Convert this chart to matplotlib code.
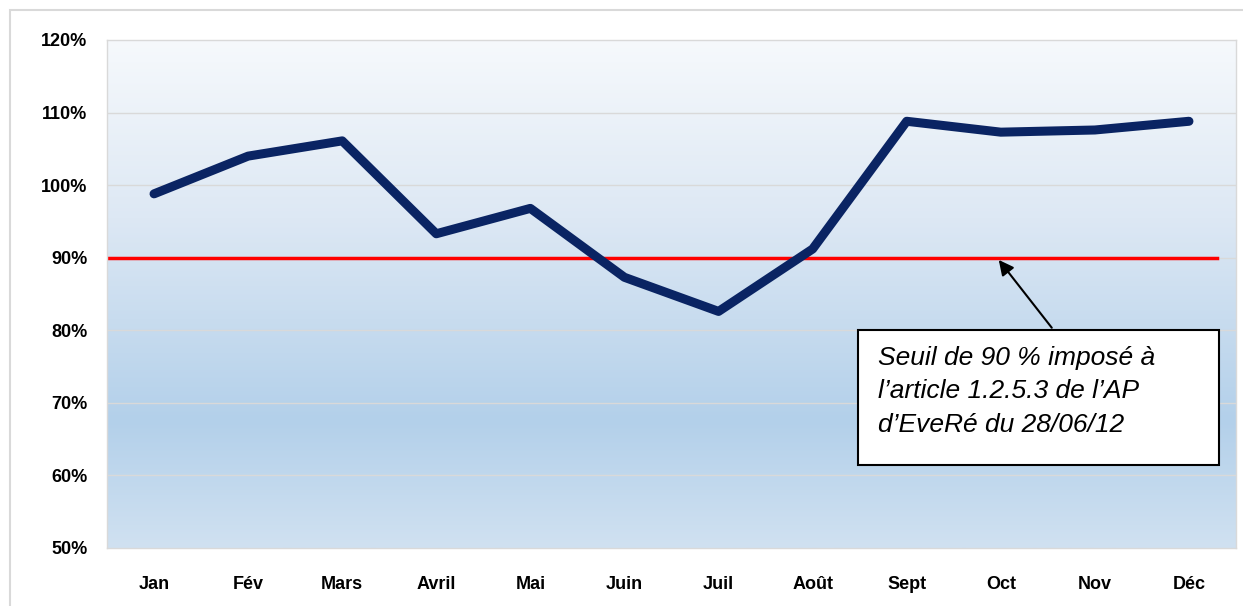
import numpy as np
import matplotlib.pyplot as plt
from matplotlib.colors import LinearSegmentedColormap
from matplotlib.patches import Rectangle

months = ['Jan', 'Fév', 'Mars', 'Avril', 'Mai', 'Juin', 'Juil', 'Août',
          'Sept', 'Oct', 'Nov', 'Déc']
taux = [98.8, 104.0, 106.1, 93.3, 96.8, 87.3, 82.6, 91.2, 108.8, 107.3, 107.6, 108.8]
seuil = 90
yticks = [50, 60, 70, 80, 90, 100, 110, 120]
note = "Seuil de 90 % imposé à\nl\u2019article 1.2.5.3 de l\u2019AP\nd\u2019EveRé du 28/06/12"

plt.rcParams['font.family'] = ['Liberation Sans', 'DejaVu Sans']

fig = plt.figure(figsize=(12.43, 6.06), dpi=100)
# outer chart frame
fig.patches.append(Rectangle((10 / 1243, -0.1), 1.2, 1 - 10 / 606 + 0.1,
                             transform=fig.transFigure, fill=False,
                             edgecolor='#d9d9d9', linewidth=1.5))
ax = fig.add_axes([107 / 1243, 1 - 548 / 606, (1236 - 107) / 1243, (548 - 40) / 606])

x = np.arange(len(months))
ax.set_xlim(-0.5, len(months) - 0.5)
ax.set_ylim(50, 120)

# background gradient (light at top, deeper blue lower down)
cmap = LinearSegmentedColormap.from_list('bg', [(0, '#f6f9fc'), (0.35, '#dde8f4'),
                                                (0.75, '#b3d0ea'), (1, '#d0e1f1')])
grad = np.linspace(0, 1, 256).reshape(-1, 1)
ax.imshow(grad, cmap=cmap, aspect='auto', extent=(-0.5, len(months) - 0.5, 50, 120),
          zorder=0, origin='upper')

for v in yticks[1:-1]:
    ax.axhline(v, color='#d9d9d9', linewidth=1, zorder=1)

ax.plot(x, taux, color='#0a2463', linewidth=6.5, solid_capstyle='round',
        solid_joinstyle='round', zorder=3)
ax.plot([-0.5, 11.3], [seuil, seuil], color='#ff0000', linewidth=2.5, zorder=2)

ax.set_xticks(x)
ax.set_xticklabels(months, fontsize=13, fontweight='bold')
ax.set_yticks(yticks)
ax.set_yticklabels([f'{v}%' for v in yticks], fontsize=13, fontweight='bold')
ax.tick_params(length=0, pad=14)
ax.tick_params(axis='x', pad=20)
for s in ax.spines.values():
    s.set_color('#d9d9d9')
    s.set_linewidth(1)

ax.annotate('', xy=(8.96, seuil), xytext=(9.56, 80.05),
            arrowprops=dict(arrowstyle='-|>,head_length=0.9,head_width=0.45',
                            color='black', linewidth=1.5), zorder=4)
ax.add_patch(Rectangle((7.48, 61.45), 11.32 - 7.48, 80.05 - 61.45, facecolor='white',
                       edgecolor='black', linewidth=1.5, zorder=5))
ax.text(7.69, 77.9, note, fontsize=19, style='italic', va='top', ha='left',
        linespacing=1.52, zorder=6)

fig.savefig('out.png', dpi=100)
